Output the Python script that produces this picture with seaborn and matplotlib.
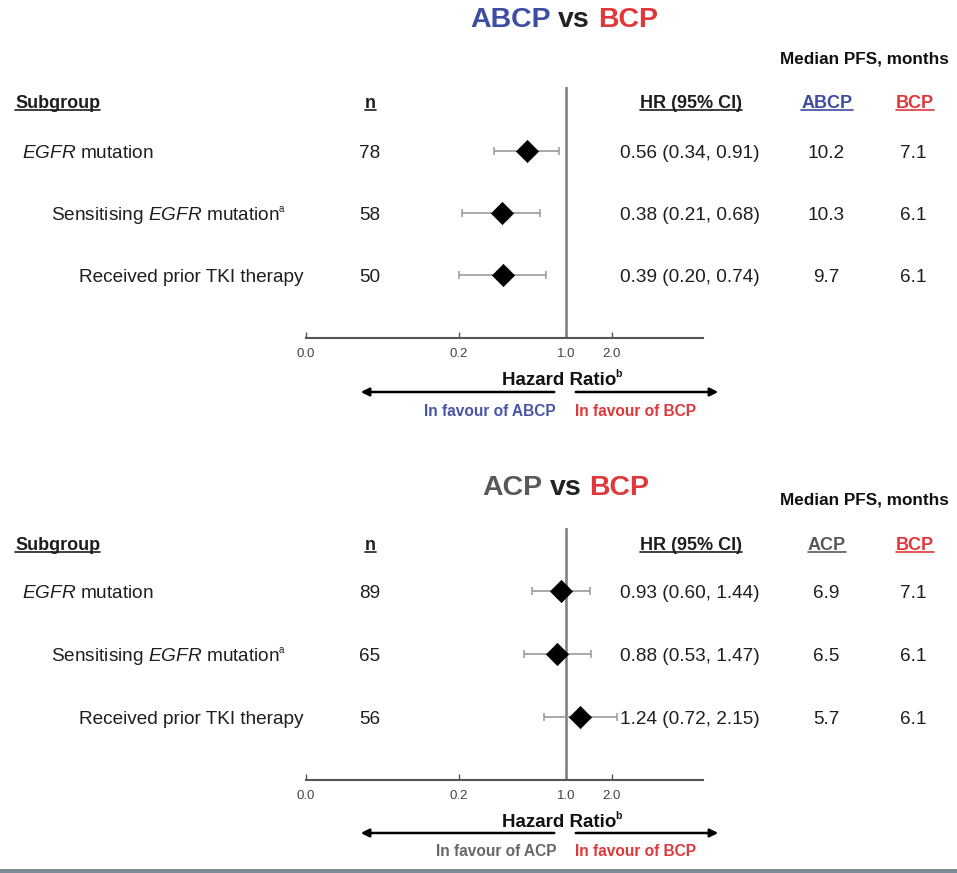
import numpy as np
import pandas as pd
import seaborn as sns
import matplotlib
matplotlib.use('Agg')
import matplotlib.pyplot as plt
from matplotlib.transforms import blended_transform_factory
from matplotlib.patches import FancyArrowPatch, Rectangle
from matplotlib.lines import Line2D
from matplotlib.ticker import NullLocator

# ---------------- data ----------------
subgroup_labels = [r'$\mathit{EGFR}$ mutation',
                   r'Sensitising $\mathit{EGFR}$ mutation',
                   'Received prior TKI therapy']
subgroup_sups = ['', 'a', '']
label_x_px = [22, 51, 79]

top_n = [78, 58, 50]
top_hr = [0.56, 0.38, 0.39]
top_lo = [0.34, 0.21, 0.20]
top_hi = [0.91, 0.68, 0.74]
top_med_a = ['10.2', '10.3', '9.7']
top_med_b = ['7.1', '6.1', '6.1']

bot_n = [89, 65, 56]
bot_hr = [0.93, 0.88, 1.24]
bot_lo = [0.60, 0.53, 0.72]
bot_hi = [1.44, 1.47, 2.15]
bot_med_a = ['6.9', '6.5', '5.7']
bot_med_b = ['7.1', '6.1', '6.1']

tick_vals = [0.02, 0.2, 1.0, 2.0]
tick_labels = ['0.0', '0.2', '1.0', '2.0']

BLUE = '#3C4DA2'
RED = '#E0383A'
GREY = '#595959'
TXT = '#1e1e1e'

sns.set_theme(style='white')
plt.rcParams['font.family'] = ['Liberation Sans', 'DejaVu Sans']
plt.rcParams['mathtext.fontset'] = 'custom'
plt.rcParams['mathtext.rm'] = 'Liberation Sans'
plt.rcParams['mathtext.it'] = 'Liberation Sans:italic'
plt.rcParams['mathtext.bf'] = 'Liberation Sans:bold'

W, H = 957, 873
fig = plt.figure(figsize=(W / 100, H / 100), dpi=100)
fig.patch.set_facecolor('white')


def fx(x):
    return x / W


def fy(y):
    return 1 - y / H


BODY = 13.7
pending_underlines = []
pending_sups = []
pending_titles = []


def panel(top_px, bot_px, rows_px, n, hr, lo, hi, med_a, med_b,
          a_name, a_color, title_y, title_x0, med_y, head_base, hr_y, arr_y, fav_y,
          fav_color):
    ax = fig.add_axes([fx(306), fy(bot_px), fx(703) - fx(306), (bot_px - top_px) / H])
    sp = (rows_px[2] - rows_px[0]) / 2.0
    ytop = -(rows_px[0] - top_px) / sp
    ybot = 2 + (bot_px - rows_px[2]) / sp
    rows = [0, 1, 2]
    df = pd.DataFrame({'hr': hr, 'row': rows, 'lo': lo, 'hi': hi})
    ax.set_xscale('log')
    ax.axvline(1.0, color='#7a7a7a', lw=1.8, zorder=1)
    ax.errorbar(df['hr'], df['row'],
                xerr=[df['hr'] - df['lo'], df['hi'] - df['hr']],
                fmt='none', ecolor='#999999', elinewidth=1.2, capsize=2.6,
                capthick=1.1, zorder=2)
    sns.scatterplot(data=df, x='hr', y='row', marker='D', s=128, color='black',
                    edgecolor='black', linewidth=0.5, ax=ax, zorder=4, legend=False)
    ax.set_xlim(0.02, 7.9)
    ax.set_ylim(ybot, ytop)
    ax.set_yticks([])
    ax.set_xticks(tick_vals)
    ax.set_xticklabels(tick_labels)
    ax.xaxis.set_minor_locator(NullLocator())
    ax.set_xlabel('')
    ax.set_ylabel('')
    for s in ['left', 'right', 'top']:
        ax.spines[s].set_visible(False)
    ax.spines['bottom'].set_color('#555555')
    ax.spines['bottom'].set_linewidth(1.5)
    ax.tick_params(axis='x', bottom=True, direction='in', length=4, width=1,
                   color='#555555', labelsize=9.5, labelcolor='#444444', pad=7)
    ax.patch.set_alpha(0)

    tr = blended_transform_factory(fig.transFigure, ax.transData)
    off = 6.8 / sp
    for i in range(3):
        t = ax.text(fx(label_x_px[i]), i + off, subgroup_labels[i], transform=tr,
                    ha='left', va='baseline', fontsize=BODY, color=TXT)
        if subgroup_sups[i]:
            pending_sups.append((t, rows_px[i] + 6.8 - 8, subgroup_sups[i], 7,
                                 'normal', TXT))
        ax.text(fx(370), i + off, str(n[i]), transform=tr, ha='center',
                va='baseline', fontsize=BODY, color=TXT)
        ax.text(fx(690), i + off, f'{hr[i]:.2f} ({lo[i]:.2f}, {hi[i]:.2f})',
                transform=tr, ha='center', va='baseline', fontsize=BODY, color=TXT)
        ax.text(fx(826), i + off, med_a[i], transform=tr, ha='center',
                va='baseline', fontsize=BODY, color=TXT)
        ax.text(fx(913), i + off, med_b[i], transform=tr, ha='center',
                va='baseline', fontsize=BODY, color=TXT)

    heads = [('Subgroup', 15, 'left', TXT), ('n', 370, 'center', TXT),
             ('HR (95% CI)', 691, 'center', TXT), (a_name, 827, 'center', a_color),
             ('BCP', 915, 'center', RED)]
    for s, x, ha, c in heads:
        t = fig.text(fx(x), fy(head_base), s, ha=ha, va='baseline',
                     fontsize=13, fontweight='bold', color=c)
        pending_underlines.append((t, head_base + 2, c))

    fig.text(fx(780), fy(med_y), 'Median PFS, months', ha='left', va='center',
             fontsize=12.3, fontweight='bold', color='#111111')

    pending_titles.append((title_x0, title_y,
                           [(a_name, a_color), ('vs', '#222222'), ('BCP', RED)]))

    hr_base = hr_y + 6.8
    t = fig.text(fx(502), fy(hr_base), 'Hazard Ratio', ha='left', va='baseline',
                 fontsize=13.5, fontweight='bold', color='#111111')
    pending_sups.append((t, hr_base - 8, 'b', 7.5, 'bold', '#111111'))
    fig.add_artist(FancyArrowPatch((fx(557), fy(arr_y)), (fx(358), fy(arr_y)),
                                   transform=fig.transFigure, arrowstyle='-|>',
                                   mutation_scale=12, lw=1.8, color='black'))
    fig.add_artist(FancyArrowPatch((fx(573), fy(arr_y)), (fx(721), fy(arr_y)),
                                   transform=fig.transFigure, arrowstyle='-|>',
                                   mutation_scale=12, lw=1.8, color='black'))
    fig.text(fx(556), fy(fav_y), f'In favour of {a_name}', ha='right', va='center',
             fontsize=11.2, fontweight='bold', color=fav_color)
    fig.text(fx(575), fy(fav_y), 'In favour of BCP', ha='left', va='center',
             fontsize=11.2, fontweight='bold', color=RED)
    return ax


panel(87, 338, [151, 213, 275], top_n, top_hr, top_lo, top_hi, top_med_a, top_med_b,
      'ABCP', BLUE, 20, 470, 59, 108, 378, 392, 412, '#4655A8')
panel(528, 780, [591, 654, 717], bot_n, bot_hr, bot_lo, bot_hi, bot_med_a, bot_med_b,
      'ACP', GREY, 488, 482, 500, 550, 820, 833, 852, '#666666')

fig.canvas.draw()
renderer = fig.canvas.get_renderer()

for t, ybase, c in pending_underlines:
    bb = t.get_window_extent(renderer)
    fig.add_artist(Line2D([bb.x0 / W, bb.x1 / W], [fy(ybase), fy(ybase)],
                          transform=fig.transFigure, color=c, lw=1.2))

for t, ybase, s, fs, fw, c in pending_sups:
    bb = t.get_window_extent(renderer)
    fig.text((bb.x1 - 1.5) / W, fy(ybase), s, ha='left', va='baseline', fontsize=fs,
             fontweight=fw, color=c)

for x0, yc, parts in pending_titles:
    full = ' '.join(p for p, _ in parts)
    tf = fig.text(fx(x0), fy(yc), full, ha='left', va='center', fontsize=20.5,
                  fontweight='bold', alpha=0)
    bbf = tf.get_window_extent(renderer)
    t1 = fig.text(fx(x0), fy(yc), parts[0][0], ha='left', va='center', fontsize=20.5,
                  fontweight='bold', color=parts[0][1])
    b1 = t1.get_window_extent(renderer)
    t3 = fig.text(bbf.x1 / W, fy(yc), parts[2][0], ha='right', va='center',
                  fontsize=20.5, fontweight='bold', color=parts[2][1])
    b3 = t3.get_window_extent(renderer)
    fig.text((b1.x1 + b3.x0) / 2 / W, fy(yc), parts[1][0], ha='center', va='center',
             fontsize=20.5, fontweight='bold', color=parts[1][1])

fig.add_artist(Rectangle((0, 0), 1, 4 / H, transform=fig.transFigure,
                         color='#7b8c97', lw=0))

fig.savefig('out.png', dpi=100, facecolor='white')
